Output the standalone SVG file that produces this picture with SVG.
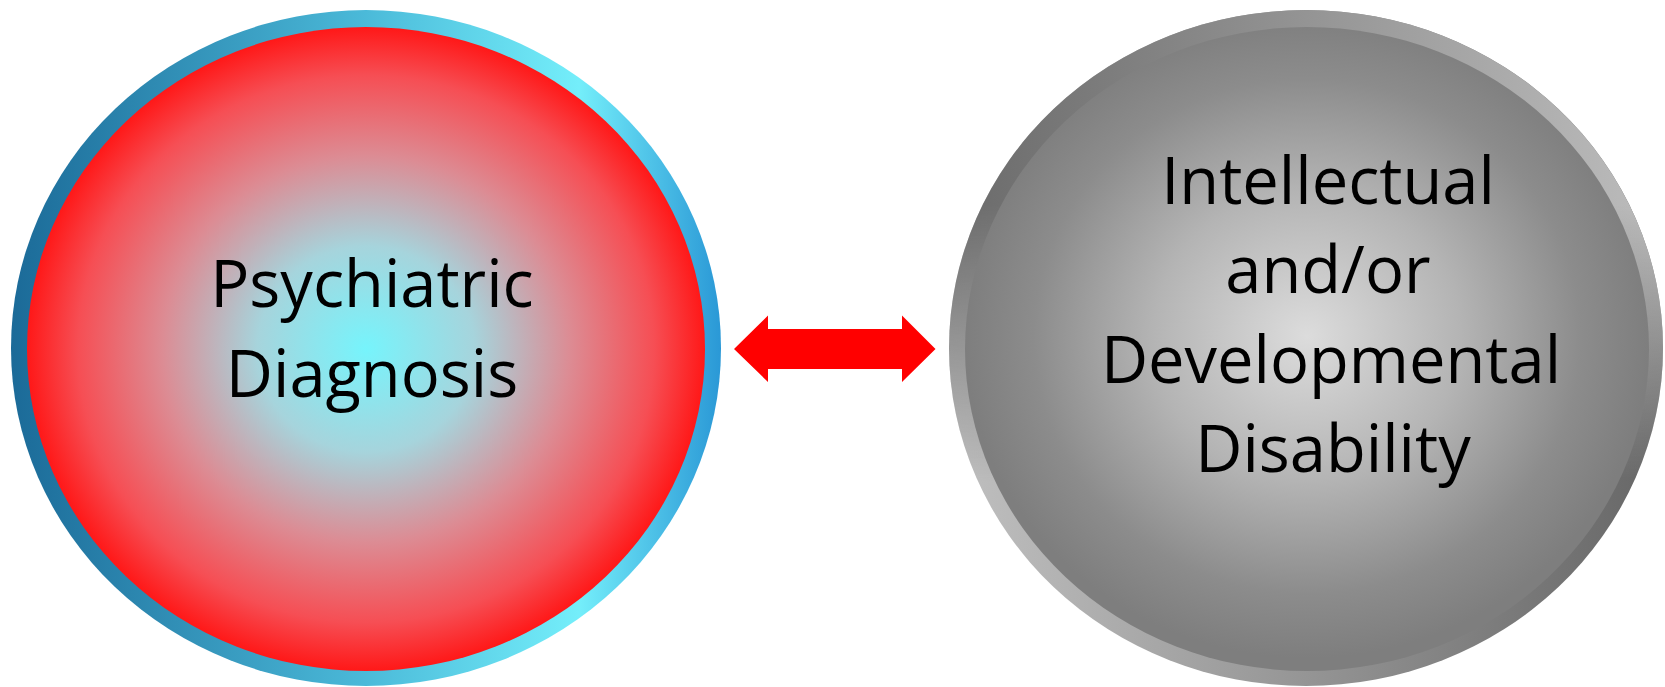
<svg xmlns="http://www.w3.org/2000/svg" width="1665" height="687" viewBox="0 0 1665 687">
  <defs>
    <linearGradient id="blueRing" x1="0" y1="0" x2="1" y2="0">
      <stop offset="0" stop-color="#1b6a98"/>
      <stop offset="0.5" stop-color="#4bbad9"/>
      <stop offset="0.8" stop-color="#74eefa"/>
      <stop offset="1" stop-color="#2a98d6"/>
    </linearGradient>
    <radialGradient id="redFill" cx="0.5" cy="0.5" r="0.5">
      <stop offset="0" stop-color="#76f4fc"/>
      <stop offset="0.32" stop-color="#a6d4dc"/>
      <stop offset="0.6" stop-color="#dc8c94"/>
      <stop offset="0.85" stop-color="#f64e54"/>
      <stop offset="1" stop-color="#ff1818"/>
    </radialGradient>
    <linearGradient id="grayTop" x1="0" y1="0" x2="1" y2="0">
      <stop offset="0" stop-color="#6a6a6a"/>
      <stop offset="0.5" stop-color="#949494"/>
      <stop offset="1" stop-color="#bdbdbd"/>
    </linearGradient>
    <linearGradient id="grayBottom" x1="0" y1="0" x2="1" y2="0">
      <stop offset="0" stop-color="#c0c0c0"/>
      <stop offset="0.5" stop-color="#959595"/>
      <stop offset="1" stop-color="#666666"/>
    </linearGradient>
    <linearGradient id="vfade" x1="0" y1="0" x2="0" y2="1">
      <stop offset="0.3" stop-color="#fff"/>
      <stop offset="0.7" stop-color="#000"/>
    </linearGradient>
    <mask id="topMask" maskUnits="userSpaceOnUse" x="940" y="0" width="725" height="687">
      <rect x="940" y="0" width="725" height="687" fill="url(#vfade)"/>
    </mask>
    <radialGradient id="grayFill" cx="0.5" cy="0.48" r="0.5">
      <stop offset="0" stop-color="#dcdcdc"/>
      <stop offset="0.45" stop-color="#b4b4b4"/>
      <stop offset="0.8" stop-color="#8c8c8c"/>
      <stop offset="1" stop-color="#7e7e7e"/>
    </radialGradient>
  </defs>
  <style>
    .lbl { font-family: "Open Sans", "Noto Sans", "Liberation Sans", sans-serif; font-size: 65px; fill: #000; text-anchor: middle; }
  </style>

  <g id="node-psychiatric">
    <ellipse cx="366" cy="348" rx="355" ry="338" fill="url(#blueRing)"/>
    <ellipse cx="366" cy="349" rx="339" ry="322" fill="url(#redFill)"/>
    <text class="lbl" x="372" y="307">Psychiatric</text>
    <text class="lbl" x="372" y="397">Diagnosis</text>
  </g>

  <g id="node-idd">
    <ellipse cx="1306" cy="348" rx="357" ry="338" fill="url(#grayBottom)"/>
    <ellipse cx="1306" cy="348" rx="357" ry="338" fill="url(#grayTop)" mask="url(#topMask)"/>
    <ellipse cx="1307" cy="349" rx="342" ry="322" fill="url(#grayFill)"/>
    <text class="lbl" x="1328" y="204">Intellectual</text>
    <text class="lbl" x="1328" y="293">and/or</text>
    <text class="lbl" x="1331" y="383">Developmental</text>
    <text class="lbl" x="1333" y="472">Disability</text>
  </g>

  <g id="connectors">
    <polygon points="734,349 768,315.5 768,329 902,329 902,315.5 935.5,349 902,382 902,369 768,369 768,382" fill="#ff0000"/>
  </g>
</svg>
